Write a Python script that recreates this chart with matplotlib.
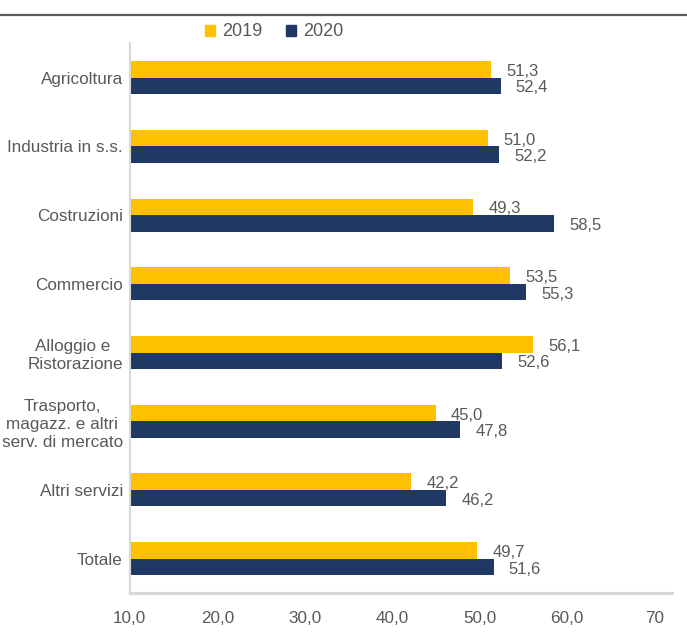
import matplotlib
matplotlib.use("Agg")
import matplotlib.pyplot as plt
import numpy as np
from matplotlib.patches import Patch
from matplotlib.lines import Line2D

categories = [
    "Agricoltura",
    "Industria in s.s.",
    "Costruzioni",
    "Commercio",
    "Alloggio e \nRistorazione",
    "Trasporto,\nmagazz. e altri\nserv. di mercato",
    "Altri servizi",
    "Totale",
]
val_2019 = [51.3, 51.0, 49.3, 53.5, 56.1, 45.0, 42.2, 49.7]
val_2020 = [52.4, 52.2, 58.5, 55.3, 52.6, 47.8, 46.2, 51.6]
x_ticks = [10, 20, 30, 40, 50, 60, 70]
x_tick_labels = ["10,0", "20,0", "30,0", "40,0", "50,0", "60,0", "70"]

YELLOW = "#FFC000"
NAVY = "#203864"
TEXT = "#595959"

plt.rcParams["font.family"] = ["Liberation Sans", "DejaVu Sans"]

fig = plt.figure(figsize=(6.87, 6.35), dpi=100)
ax = fig.add_axes([0.189, 0.066, 0.789, 0.866])

y = np.arange(len(categories))
h = 0.24
ax.barh(y - h / 2, val_2019, height=h, left=0, color=YELLOW, label="2019")
ax.barh(y + h / 2, val_2020, height=h, left=0, color=NAVY, label="2020")

# data labels, Italian decimal comma
for yi, v in zip(y, val_2019):
    ax.annotate(f"{v:.1f}".replace(".", ","), (v, yi - h / 2), xytext=(11, -1.5),
                textcoords="offset points", va="center", ha="left",
                fontsize=12, color=TEXT)
for yi, v in zip(y, val_2020):
    ax.annotate(f"{v:.1f}".replace(".", ","), (v, yi + h / 2), xytext=(11, -1.5),
                textcoords="offset points", va="center", ha="left",
                fontsize=12, color=TEXT)

ax.set_xlim(10, 72)
ax.set_ylim(len(categories) - 0.5, -0.5)
ax.set_yticks(y)
ax.set_yticklabels(categories, fontsize=12.3, color=TEXT, multialignment="center",
                   linespacing=1.25)
ax.set_xticks(x_ticks)
ax.set_xticklabels(x_tick_labels, fontsize=12.3, color=TEXT)
ax.tick_params(axis="both", length=0)
ax.tick_params(axis="y", pad=5)
ax.tick_params(axis="x", pad=13)

for side in ["top", "right"]:
    ax.spines[side].set_visible(False)
ax.spines["left"].set_color("#d9d9d9")
ax.spines["left"].set_linewidth(1.5)
ax.spines["bottom"].set_color("#d9d9d9")
ax.spines["bottom"].set_linewidth(2.2)

handles = [Patch(color=YELLOW, label="2019"), Patch(color=NAVY, label="2020")]
fig.legend(handles=handles, loc="center", bbox_to_anchor=(274 / 687, 1 - 32 / 635),
           ncol=2, frameon=False, fontsize=13, handlelength=0.55, handleheight=0.55,
           handletextpad=0.4, columnspacing=1.3, labelcolor=TEXT)

# dark rule across the top of the figure
fig.add_artist(Line2D([0, 1], [1 - 15 / 635, 1 - 15 / 635], transform=fig.transFigure,
                      color="#595959", linewidth=1.6))

fig.savefig("out.png", dpi=100)
